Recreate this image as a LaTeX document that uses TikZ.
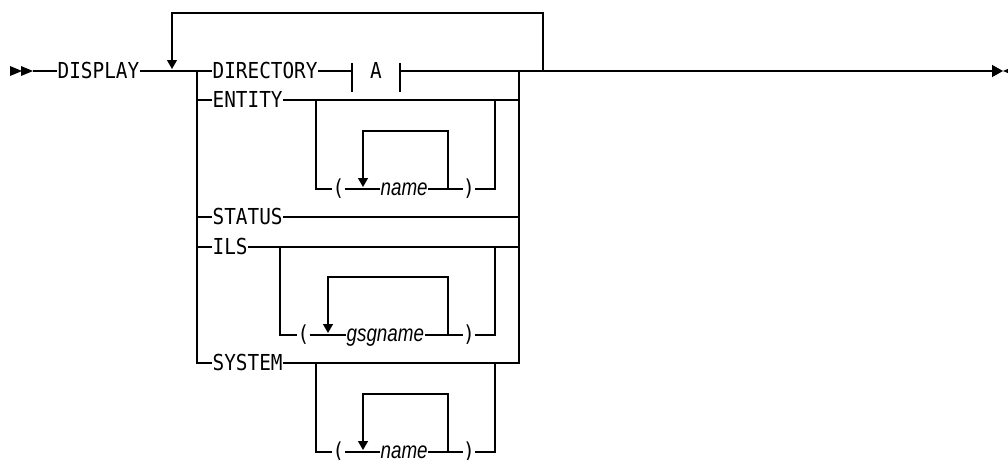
\documentclass[tikz,border=0pt]{standalone}
\usepackage{fontspec}
\usetikzlibrary{arrows.meta}
\newfontfamily\kwfont[FakeStretch=0.88]{DejaVu Sans Mono}
\newfontfamily\varfont[FakeStretch=0.8]{Liberation Sans}
\begin{document}
\begin{tikzpicture}[x=1pt,y=-1pt,line width=1.3pt,
  kw/.style={inner sep=0pt,anchor=west,text height=15pt,text depth=0pt,
    font=\kwfont\fontsize{22}{22}\selectfont},
  var/.style={inner sep=0pt,anchor=west,text height=12pt,text depth=0pt,
    font=\varfont\itshape\fontsize{23.5}{23.5}\selectfont},
  par/.style={kw,anchor=center,text height=12pt},
  looparrow/.style={-{Triangle[length=9pt,width=10pt]}},
  endarrow/.style={-{Triangle[length=11pt,width=12pt]}},
  tipmark/.style={fill=black,draw=none},
]
\useasboundingbox (0,0) rectangle (1008,459);

% main line
\coordinate (s) at (33,71);
\node[kw] (display) at (57,71) {DISPLAY};
\coordinate (jl) at (197,71);
\coordinate (jlb) at (197,363);
\coordinate (jr) at (519,71);
\coordinate (jrb) at (519,363);
\coordinate (jx) at (543,71);
\coordinate (lt) at (543,13);
\coordinate (ll) at (172,13);
\coordinate (la) at (172,69);
\coordinate (k1) at (549,71);
\coordinate (k2) at (573,71);
\coordinate (fin) at (1003,71);

\fill[tipmark] (10,66) -- (22,71) -- (10,76) -- cycle;
\fill[tipmark] (21,66) -- (33,71) -- (21,76) -- cycle;
\fill[tipmark] (1003,71) -- (1009,68.5) -- (1009,73.5) -- cycle;

\draw (s) -- (display.west);
\draw (display.east) -- (jl);
\draw[looparrow] (jx) -- (lt) -- (ll) -- (la);
\draw[endarrow] (jr) -- (fin);
\draw[line width=2.2pt] (k1) -- (k2);

% rows
\node[kw] (directory) at (212,71) {DIRECTORY};
\node[kw] (entity) at (212,100) {ENTITY};
\node[kw] (status) at (212,217) {STATUS};
\node[kw] (ils) at (212,247) {ILS};
\node[kw] (system) at (212,363) {SYSTEM};

\draw (jl) -- (jlb) -- (system.west);
\draw (system.east) -- (jrb) -- (jr);
\draw (jl) -- (directory.west);
\foreach \r in {entity,status,ils}{
  \draw (\r.west -| jl) -- (\r.west);
  \draw (\r.east) -- (\r.east -| jr);
}

% fragment A
\coordinate (b1) at (352,71);
\coordinate (b1t) at (352,63);
\coordinate (b1b) at (352,92);
\coordinate (b2) at (400,71);
\coordinate (b2t) at (400,63);
\coordinate (b2b) at (400,92);
\node[kw,anchor=center] (fa) at (376,71) {A};
\draw (directory.east) -- (b1);
\draw (b1t) -- (b1b);
\draw (b2t) -- (b2b);
\draw (b2) -- (jr);

% ENTITY option
\coordinate (e1) at (316,100);
\coordinate (e2) at (495,100);
\node[par] (lp1) at (338.5,189) {(};
\node[var] (n1) at (380,189) {name};
\node[par] (rp1) at (469,189) {)};
\coordinate (e3) at (448,189);
\coordinate (e4) at (448,131);
\coordinate (e5) at (363,131);
\coordinate (e6) at (363,187);
\draw (e1) -- (e1 |- lp1) -- (lp1.west);
\draw (lp1.east) -- (n1.west);
\draw (n1.east) -- (rp1.west);
\draw (rp1.east) -- (rp1.east -| e2) -- (e2);
\draw[looparrow] (e3) -- (e4) -- (e5) -- (e6);

% ILS option
\coordinate (i1) at (280,247);
\coordinate (i2) at (495,247);
\node[par] (lp2) at (303.5,335) {(};
\node[var] (n2) at (346,335) {gsgname};
\node[par] (rp2) at (469,335) {)};
\coordinate (i3) at (448,335);
\coordinate (i4) at (448,277);
\coordinate (i5) at (328,277);
\coordinate (i6) at (328,333);
\draw (i1) -- (i1 |- lp2) -- (lp2.west);
\draw (lp2.east) -- (n2.west);
\draw (n2.east) -- (rp2.west);
\draw (rp2.east) -- (rp2.east -| i2) -- (i2);
\draw[looparrow] (i3) -- (i4) -- (i5) -- (i6);

% SYSTEM option
\coordinate (y1) at (316,363);
\coordinate (y2) at (495,363);
\node[par] (lp3) at (338.5,452) {(};
\node[var] (n3) at (380,452) {name};
\node[par] (rp3) at (469,452) {)};
\coordinate (y3) at (448,452);
\coordinate (y4) at (448,394);
\coordinate (y5) at (363,394);
\coordinate (y6) at (363,450);
\draw (y1) -- (y1 |- lp3) -- (lp3.west);
\draw (lp3.east) -- (n3.west);
\draw (n3.east) -- (rp3.west);
\draw (rp3.east) -- (rp3.east -| y2) -- (y2);
\draw[looparrow] (y3) -- (y4) -- (y5) -- (y6);
\end{tikzpicture}
\end{document}
